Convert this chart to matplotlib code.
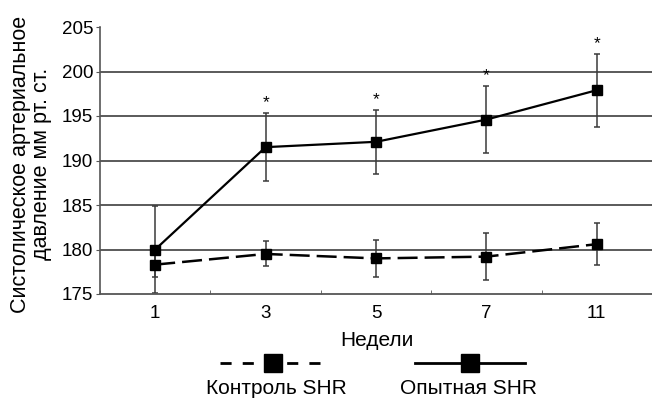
import matplotlib
matplotlib.use("Agg")
import matplotlib.pyplot as plt
from matplotlib.lines import Line2D
import numpy as np

plt.rcParams['font.family'] = ['Liberation Sans', 'DejaVu Sans']

weeks = ["1", "3", "5", "7", "11"]
control = [178.3, 179.5, 179.0, 179.2, 180.6]
control_err = [1.4, 1.4, 2.1, 2.6, 2.35]
experimental = [180.0, 191.5, 192.1, 194.6, 197.9]
experimental_err = [4.9, 3.8, 3.6, 3.8, 4.1]
significant = [False, True, True, True, True]
yticks = [175, 180, 185, 190, 195, 200, 205]

W, H = 652, 398
fig = plt.figure(figsize=(W / 100, H / 100), dpi=100)
ax = fig.add_axes([100 / W, (H - 294) / H, 552 / W, 267 / H])

x = np.arange(len(weeks))
grid_c = "#4d4d4d"
for yv in yticks[1:-1]:
    ax.axhline(yv, color=grid_c, lw=1.3, zorder=1)

ax.errorbar(x, control, yerr=control_err, fmt="none", ecolor="#3a3a3a",
            elinewidth=1.1, capsize=2, capthick=1.1, zorder=2)
ax.errorbar(x, experimental, yerr=experimental_err, fmt="none", ecolor="#3a3a3a",
            elinewidth=1.1, capsize=2, capthick=1.1, zorder=2)
ax.plot(x, control, color="black", lw=1.8, linestyle=(0, (8, 2.8)),
        marker="s", markersize=7, markerfacecolor="black", zorder=3)
ax.plot(x, experimental, color="black", lw=1.6, linestyle="-",
        marker="s", markersize=7, markerfacecolor="black", zorder=3)

for xi, v, e, s in zip(x, experimental, experimental_err, significant):
    if s:
        ax.annotate("*", (xi, v + e), xytext=(0, 2), textcoords="offset points",
                    ha="center", va="bottom", fontsize=12.5)

ax.set_xlim(-0.5, len(weeks) - 0.5)
ax.set_ylim(175, 205)
ax.set_yticks(yticks)
ax.set_xticks(x)
ax.set_xticklabels(weeks)
ax.set_xticks(np.arange(len(weeks) + 1) - 0.5, minor=True)
ax.tick_params(axis="x", which="major", length=0, labelsize=13.5, pad=8)
ax.tick_params(axis="x", which="minor", length=3, direction="in", color="#555555")
ax.tick_params(axis="y", length=3, color="#555555", labelsize=13.5, pad=2)
for sp in ["top", "right"]:
    ax.spines[sp].set_visible(False)
ax.spines["left"].set_color("#555555")
ax.spines["bottom"].set_color("#555555")
ax.spines["left"].set_linewidth(1.2)
ax.spines["bottom"].set_linewidth(1.3)

fig.text(377 / W, 1 - 340 / H, "Недели", ha="center", va="center", fontsize=15)
fig.text(31 / W, 1 - 164 / H, "Систолическое артериальное\nдавление мм рт. ст.",
         rotation=90, ha="center", va="center", multialignment="center",
         fontsize=15.5, linespacing=1.05)

# legend (handles above labels)
ly = 1 - 363 / H
fig.add_artist(Line2D([220 / W, 330 / W], [ly, ly], color="black", lw=2.0,
                      linestyle=(0, (4, 4))))
fig.add_artist(Line2D([273 / W], [ly], color="black", marker="s", markersize=13,
                      linestyle="none"))
fig.add_artist(Line2D([415 / W, 525 / W], [ly, ly], color="black", lw=2.0))
fig.add_artist(Line2D([470 / W], [ly], color="black", marker="s", markersize=13,
                      linestyle="none"))
fig.text(276 / W, 1 - 388 / H, "Контроль SHR", ha="center", va="center", fontsize=15)
fig.text(468 / W, 1 - 388 / H, "Опытная SHR", ha="center", va="center", fontsize=15)

fig.savefig("out.png", dpi=100)
